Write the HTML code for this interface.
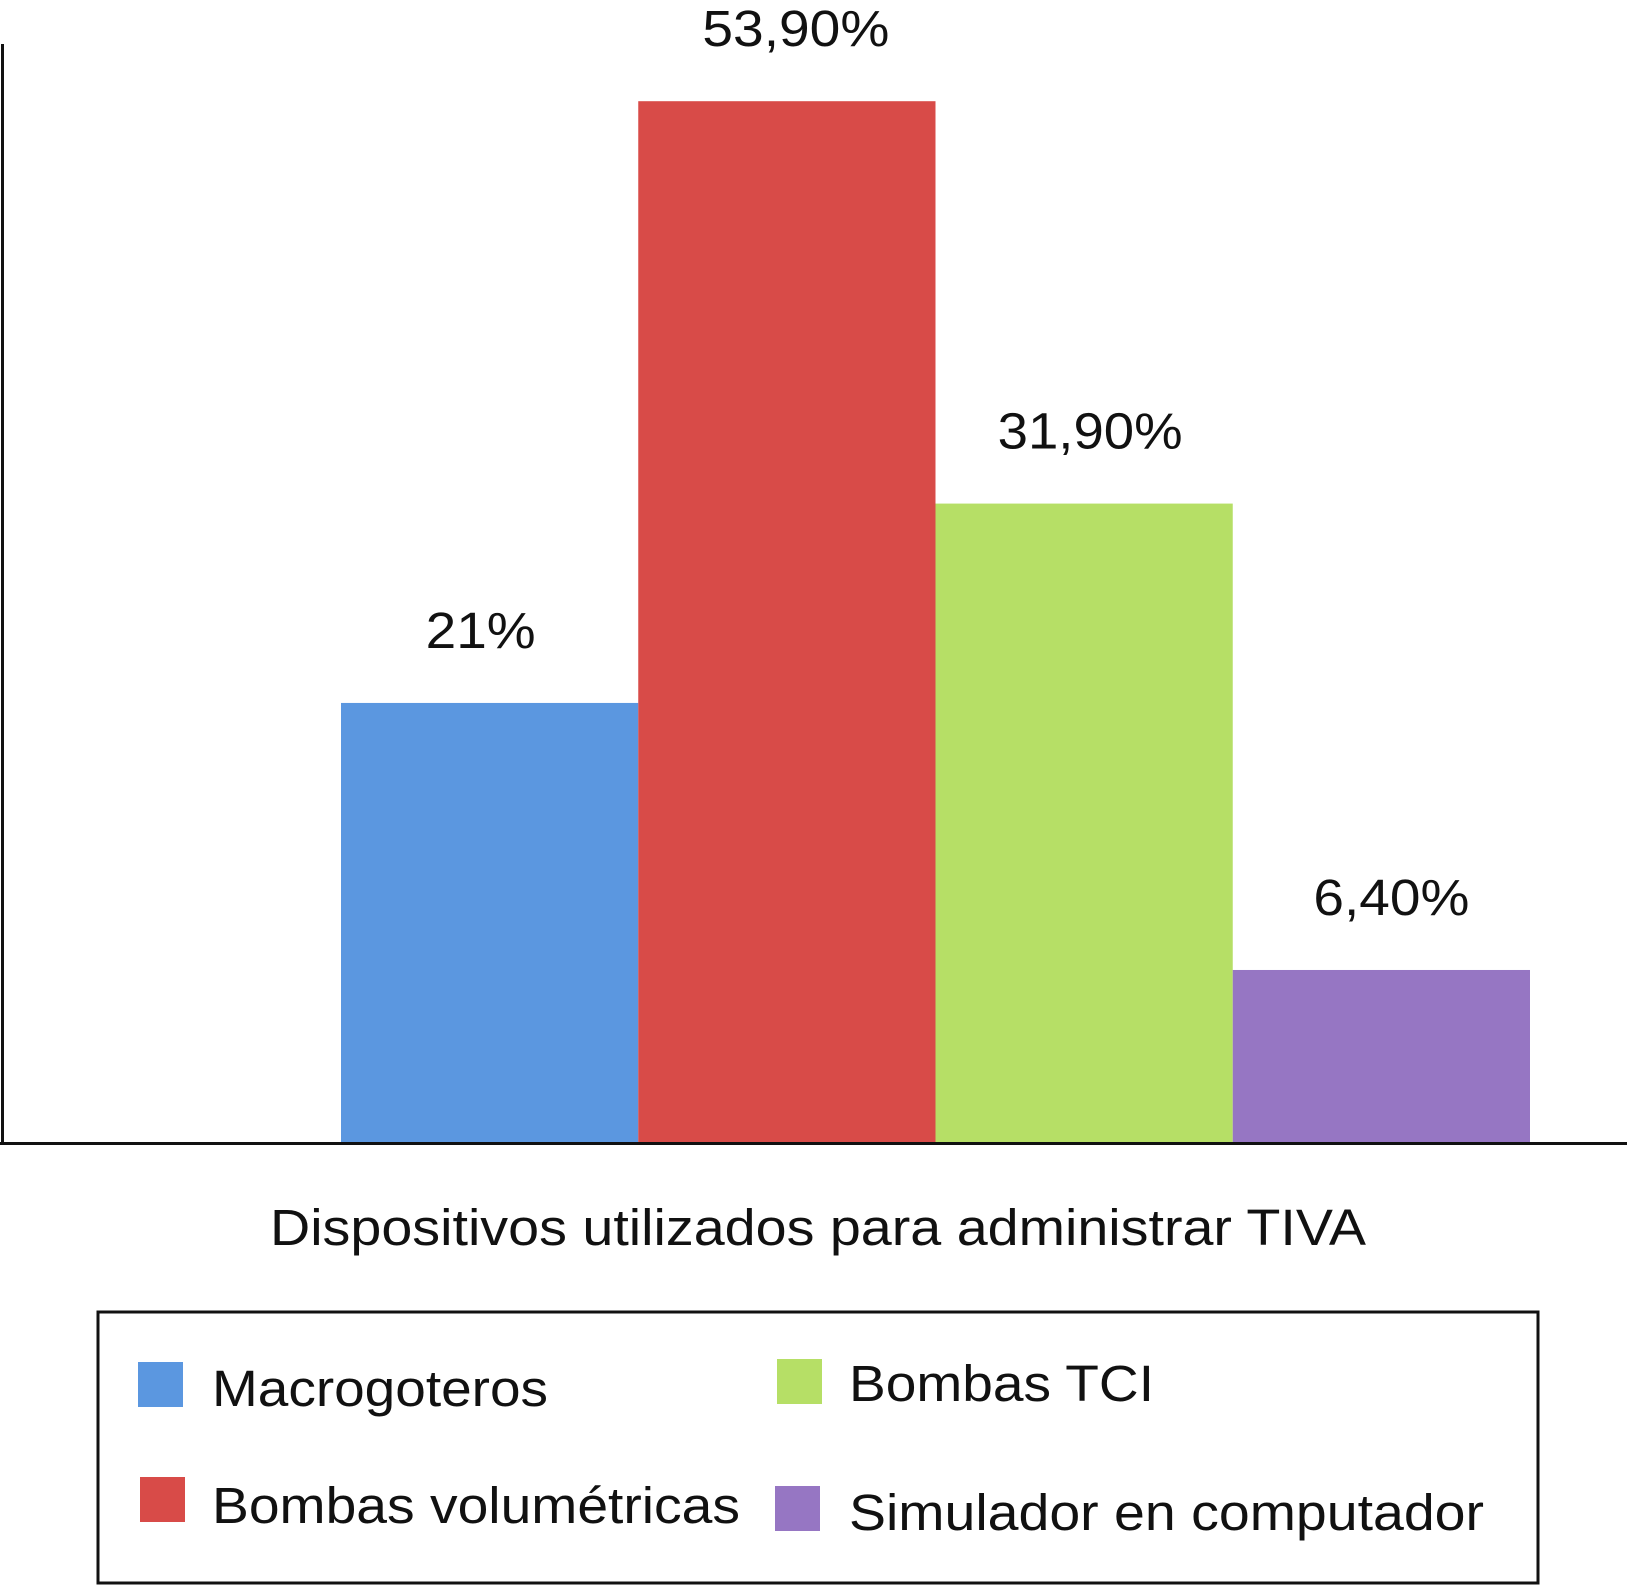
<!DOCTYPE html>
<html><head><meta charset="utf-8"><style>body{margin:0;background:#fff}svg{display:block}text{font-family:"Liberation Sans",sans-serif;fill:#111}</style></head>
<body>
<svg id="chart" width="1627" height="1586" viewBox="0 0 1627 1586">
<line x1="2.5" y1="44" x2="2.5" y2="1143" stroke="#111" stroke-width="3"/>
<g id="bars"></g>
<line x1="0" y1="1143.5" x2="1627" y2="1143.5" stroke="#111" stroke-width="3"/>
<text x="270" y="1245" font-size="51" textLength="1096" lengthAdjust="spacingAndGlyphs">Dispositivos utilizados para administrar TIVA</text>
<rect x="98" y="1312" width="1440" height="271" fill="none" stroke="#111" stroke-width="3"/>
<g id="legend"></g>
</svg>
<script>
const categories=["Macrogoteros","Bombas volumétricas","Bombas TCI","Simulador en computador"];
const values=[21,53.9,31.9,6.4];
const valueLabels=["21%","53,90%","31,90%","6,40%"];
const colors=["#5b97e0","#d84b48","#b6df66","#9676c3"];
const labelW=[110,187,185,156];
const labelDx=[-9,9,6,10];
const legendW=[336,528,305,635];
const NS="http://www.w3.org/2000/svg";
const yMin=-3.06,pxPer=18.29,base=1143,x0=341,bw=297.25;
function yS(v){return base-(v-yMin)*pxPer;}
const g=document.getElementById('bars');
values.forEach((v,i)=>{
 const r=document.createElementNS(NS,'rect');
 
 
 r.setAttribute('x',x0+i*bw);r.setAttribute('width',bw);
 r.setAttribute('y',yS(v));r.setAttribute('height',base-yS(v));
 r.setAttribute('fill',colors[i]);g.appendChild(r);
 const t=document.createElementNS(NS,'text');
 
 
 t.setAttribute('x',x0+i*bw+bw/2+labelDx[i]-labelW[i]/2);t.setAttribute('y',yS(v)-55);
 t.setAttribute('font-size','51');
 t.setAttribute('textLength',labelW[i]);t.setAttribute('lengthAdjust','spacingAndGlyphs');
 t.textContent=valueLabels[i];g.appendChild(t);
});
const lg=document.getElementById('legend');
const lpos=[[138,1362,212,1406],[140,1477,212,1523],[777,1359,849,1401],[775,1486,849,1530]];
categories.forEach((c,i)=>{
 const p=lpos[i];
 const s=document.createElementNS(NS,'rect');
 
 
 s.setAttribute('x',p[0]);s.setAttribute('y',p[1]);s.setAttribute('width',45);s.setAttribute('height',45);
 s.setAttribute('fill',colors[i]);lg.appendChild(s);
 const t=document.createElementNS(NS,'text');
 
 
 t.setAttribute('x',p[2]);t.setAttribute('y',p[3]);t.setAttribute('font-size','51');
 t.setAttribute('textLength',legendW[i]);t.setAttribute('lengthAdjust','spacingAndGlyphs');
 t.textContent=c;lg.appendChild(t);
});
</script>
</body></html>
